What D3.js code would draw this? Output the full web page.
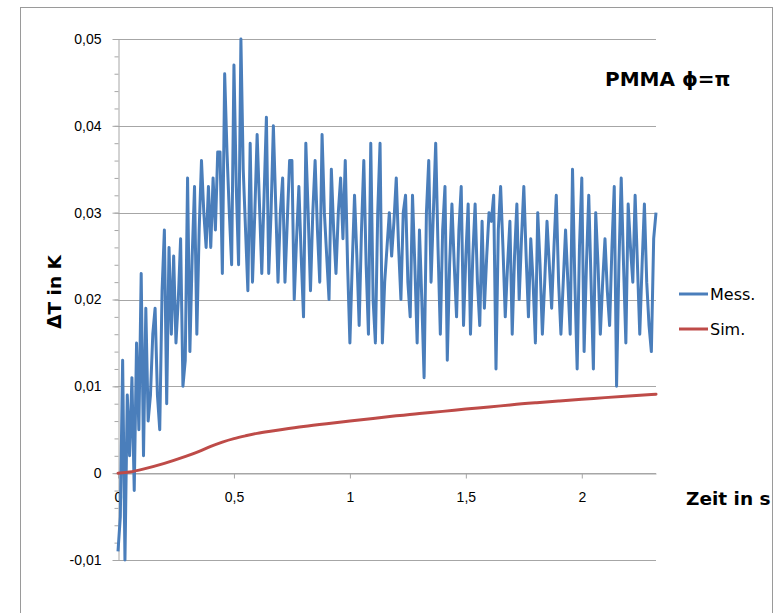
<!DOCTYPE html>
<html>
<head>
<meta charset="utf-8">
<script src="https://cdn.jsdelivr.net/npm/d3@7/dist/d3.min.js"></script>
<style>
  html, body { margin: 0; padding: 0; background: #fff; }
  svg { display: block; font-family: 'DejaVu Sans', sans-serif; }
</style>
</head>
<body>
<div id="chart-area"></div>
<script>
// measured temperature difference, one sample every 10 ms
const messStep = 0.01;
const messValues = [
  -0.009, -0.005, 0.013, -0.010, 0.009, 0.002, 0.011, -0.002, 0.015, 0.005,
  0.023, 0.002, 0.019, 0.006, 0.009, 0.016, 0.019, 0.009, 0.005, 0.021,
  0.028, 0.008, 0.026, 0.016, 0.025, 0.015, 0.020, 0.027, 0.010, 0.013,
  0.034, 0.014, 0.025, 0.033, 0.016, 0.028, 0.036, 0.030, 0.026, 0.033,
  0.026, 0.034, 0.028, 0.037, 0.037, 0.023, 0.046, 0.037, 0.030, 0.024,
  0.047, 0.033, 0.024, 0.050, 0.035, 0.028, 0.021, 0.038, 0.022, 0.030,
  0.039, 0.031, 0.023, 0.032, 0.041, 0.023, 0.030, 0.040, 0.031, 0.022,
  0.030, 0.034, 0.022, 0.029, 0.036, 0.036, 0.020, 0.027, 0.033, 0.025,
  0.018, 0.038, 0.030, 0.021, 0.030, 0.036, 0.028, 0.022, 0.039, 0.030,
  0.025, 0.020, 0.035, 0.028, 0.023, 0.030, 0.034, 0.027, 0.036, 0.024,
  0.015, 0.024, 0.032, 0.025, 0.017, 0.028, 0.036, 0.024, 0.016, 0.038,
  0.020, 0.015, 0.030, 0.038, 0.015, 0.022, 0.026, 0.030, 0.025, 0.029,
  0.034, 0.026, 0.020, 0.030, 0.032, 0.022, 0.018, 0.032, 0.024, 0.015,
  0.028, 0.020, 0.011, 0.030, 0.036, 0.022, 0.030, 0.038, 0.026, 0.016,
  0.028, 0.033, 0.013, 0.024, 0.031, 0.024, 0.018, 0.028, 0.033, 0.017,
  0.025, 0.031, 0.016, 0.025, 0.031, 0.022, 0.017, 0.029, 0.019, 0.025,
  0.030, 0.029, 0.032, 0.012, 0.028, 0.033, 0.026, 0.018, 0.024, 0.029,
  0.016, 0.025, 0.031, 0.020, 0.027, 0.033, 0.025, 0.018, 0.027, 0.022,
  0.015, 0.030, 0.024, 0.016, 0.022, 0.029, 0.024, 0.019, 0.026, 0.032,
  0.022, 0.016, 0.022, 0.028, 0.022, 0.016, 0.035, 0.022, 0.012, 0.026,
  0.034, 0.014, 0.024, 0.032, 0.022, 0.012, 0.030, 0.024, 0.016, 0.022,
  0.027, 0.021, 0.017, 0.026, 0.033, 0.010, 0.024, 0.034, 0.024, 0.015,
  0.031, 0.026, 0.022, 0.032, 0.024, 0.016, 0.024, 0.031, 0.022, 0.017,
  0.014, 0.027, 0.030
];

// simulated curve
const simTime = [0, 0.05, 0.1, 0.2, 0.3, 0.35, 0.4, 0.45, 0.5, 0.55, 0.6, 0.65, 0.7, 0.8,
  0.9, 1.0, 1.1, 1.2, 1.3, 1.4, 1.5, 1.6, 1.7, 1.8, 1.9, 2.0, 2.1, 2.2, 2.32];
const simValues = [0, 0.0001, 0.0004, 0.0011, 0.0020, 0.0025, 0.0031, 0.0036, 0.0040,
  0.0043, 0.0046, 0.0048, 0.0050, 0.0054, 0.0057, 0.0060, 0.0063, 0.0066, 0.0069,
  0.0071, 0.0074, 0.0076, 0.0079, 0.0081, 0.0083, 0.0085, 0.0087, 0.0089, 0.0091];

const seriesNames = ['Mess.', 'Sim.'];
const xTicks = [0, 0.5, 1, 1.5, 2];
const yTicks = [-0.01, 0, 0.01, 0.02, 0.03, 0.04, 0.05];
const yMinorTicks = d3.range(-10, 51, 2).map((k) => k / 1000);

const width = 777;
const height = 613;
const colors = ['#4a7ebb', '#be4b48'];
const gridColor = '#a6a6a6';

const de = d3.formatLocale({ decimal: ',', thousands: '.', grouping: [3], currency: ['', ' €'], minus: '-' });
const fmtX = de.format('~g');
const fmtY = de.format('.2~f');

let svg = d3
  .select('#chart-area')
  .append('svg')
  .attr('width', width)
  .attr('height', height);

// chart frame
svg
  .append('rect')
  .attr('x', 20.5)
  .attr('y', 7.5)
  .attr('width', 752)
  .attr('height', 620)
  .attr('fill', '#fff')
  .attr('stroke', '#9a9a9a');

let x = d3.scaleLinear().domain([0, 2.32]).range([118, 656]);
let y = d3.scaleLinear().domain([-0.01, 0.05]).range([560, 39]);

// horizontal gridlines
svg
  .append('g')
  .selectAll('line')
  .data(yTicks)
  .enter()
  .append('line')
  .attr('x1', x(0))
  .attr('x2', x(2.32))
  .attr('y1', (d) => Math.round(y(d)) + 0.5)
  .attr('y2', (d) => Math.round(y(d)) + 0.5)
  .attr('stroke', gridColor);

// y axis with minor ticks
let yMinor = svg
  .append('g')
  .attr('transform', `translate(${x(0) + 0.5},0)`)
  .call(d3.axisLeft(y).tickValues(yMinorTicks).tickSize(4).tickFormat(''));
yMinor.select('.domain').remove();
yMinor.selectAll('line').attr('stroke', gridColor);

let yAxis = svg
  .append('g')
  .attr('transform', `translate(${x(0) + 0.5},0)`)
  .call(d3.axisLeft(y).tickValues(yTicks).tickSize(6).tickPadding(11).tickSizeOuter(0).tickFormat(fmtY));
yAxis.select('.domain').attr('stroke', gridColor);
yAxis.selectAll('line').attr('stroke', gridColor);
yAxis.selectAll('text').style('font-size', '14px').attr('fill', '#000');

// x axis through zero
let xAxis = svg
  .append('g')
  .attr('transform', `translate(0,${Math.round(y(0)) + 0.5})`)
  .call(d3.axisBottom(x).tickValues(xTicks).tickSize(5).tickPadding(14).tickSizeOuter(0).tickFormat(fmtX));
xAxis.select('.domain').attr('stroke', gridColor);
xAxis.selectAll('line').attr('stroke', gridColor);
xAxis.selectAll('text').style('font-size', '14px').attr('fill', '#000');

// measured series
let messLine = d3
  .line()
  .x((d, i) => x(i * messStep))
  .y((d) => y(d));

svg
  .append('path')
  .datum(messValues)
  .attr('d', messLine)
  .attr('fill', 'none')
  .attr('stroke', colors[0])
  .attr('stroke-width', 3)
  .attr('stroke-linejoin', 'round');

// simulated series
let simLine = d3
  .line()
  .x((d, i) => x(simTime[i]))
  .y((d) => y(d))
  .curve(d3.curveBasis);

svg
  .append('path')
  .datum(simValues)
  .attr('d', simLine)
  .attr('fill', 'none')
  .attr('stroke', colors[1])
  .attr('stroke-width', 3)
  .attr('stroke-linecap', 'round');

// titles
svg
  .append('text')
  .attr('x', 605)
  .attr('y', 86)
  .style('font-size', '20px')
  .style('font-weight', 'bold')
  .text('PMMA ϕ=π');

svg
  .append('text')
  .attr('transform', 'translate(61,292) rotate(-90)')
  .attr('text-anchor', 'middle')
  .style('font-size', '18.5px')
  .style('font-weight', 'bold')
  .text('ΔT in K');

svg
  .append('text')
  .attr('x', 686)
  .attr('y', 505)
  .style('font-size', '18.5px')
  .style('font-weight', 'bold')
  .text('Zeit in s');

// legend
let legendItem = svg
  .append('g')
  .selectAll('g')
  .data(seriesNames)
  .enter()
  .append('g')
  .attr('transform', (d, i) => `translate(679,${294 + i * 35})`);

legendItem
  .append('line')
  .attr('x1', 0)
  .attr('x2', 29)
  .attr('stroke', (d, i) => colors[i])
  .attr('stroke-width', 3);

legendItem
  .append('text')
  .attr('x', 31)
  .attr('y', 6)
  .style('font-size', '16px')
  .text((d) => d);
</script>
</body>
</html>
